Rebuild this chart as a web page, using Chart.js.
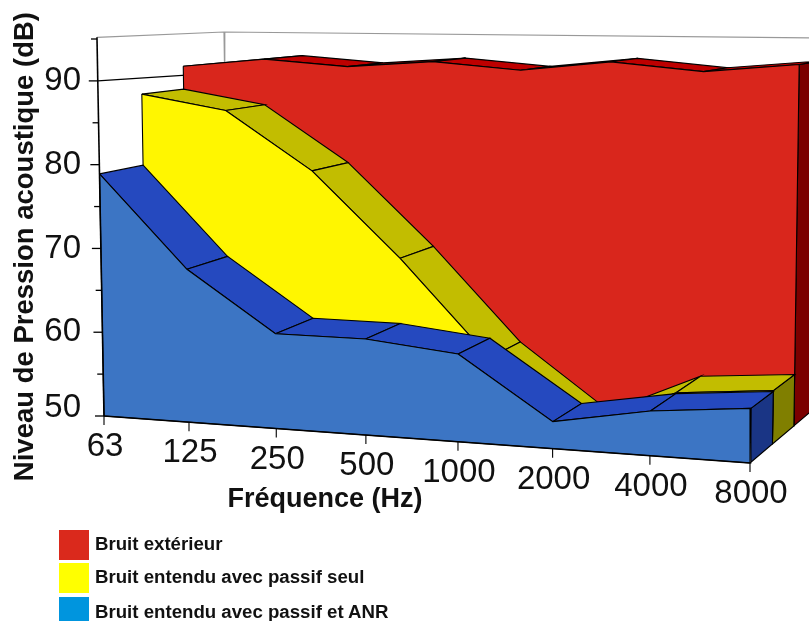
<!DOCTYPE html>
<html>
<head>
<meta charset="utf-8">
<title>Bruit</title>
<script src="https://cdn.jsdelivr.net/npm/chart.js"></script>
<style>
    html, body { margin: 0; padding: 0; background: #fff; overflow: hidden; }
    #wrap { position: relative; width: 809px; height: 621px; overflow: hidden; }
    canvas { position: absolute; left: 0; top: 0; }
    .key { position: absolute; left: 59px; width: 30px; height: 30px; }
    .keyText { position: absolute; left: 95px; font: bold 18.65px "Liberation Sans", Arial, sans-serif; color: #111; white-space: nowrap; }
</style>
</head>
<body>
<div id="wrap"><canvas id="noiseChart" width="809" height="621"></canvas></div>

<script>
// =====================================================
// DATA (dB)
// =====================================================
const frequencies = ["63", "125", "250", "500", "1000", "2000", "4000", "8000"];
const bruitExterieur = [90.8, 91.9, 91.1, 91.9, 91.0, 92.2, 91.2, 92.2];
const bruitPassif = [87.8, 86.0, 78.9, 68.8, 57.6, 50.0, 55.0, 56.0];
const bruitPassifAnr = [78.9, 68.0, 61.0, 61.0, 59.9, 53.0, 54.9, 55.9];
const yMajorTicks = [50, 60, 70, 80, 90];
const yMinorTicks = [55, 65, 75, 85, 95];
const legendLabels = ["Bruit extérieur", "Bruit entendu avec passif seul", "Bruit entendu avec passif et ANR"];
const legendColors = ["#da291c", "#ffff00", "#0095de"];
const legendTops = [530, 563, 597];
const legendTextTops = [533, 566, 601];

// =====================================================
// 3D BOX (screen corners of the floor and of the 95 dB level)
// =====================================================
const floorFront = [[104, 416], [750, 463]];
const topFront = [[97, 39], [757, 46]];
const floorBack = [[229, 358], [815, 408]];
const topBack = [[224, 32], [820, 38]];
const planes = [0, 0.345, 0.675, 1];   // depth of each series band
const perspective = 0.1;
const floorDb = 50, topDb = 95;
const pxPerDb = 8.37;                  // left axis scale

const lerp = (a, b, k) => a + (b - a) * k;
const toAxis = (py) => floorDb + (416 - py) / pxPerDb;

function last() { return frequencies.length - 1; }

function project(i, db, z) {
    const r = i / (frequencies.length - 1);
    const t = r / (1 + perspective * (1 - r));
    const v = (db - floorDb) / (topDb - floorDb);
    const corner = (front, back, n) => lerp(lerp(front[0][n], front[1][n], t), lerp(back[0][n], back[1][n], t), z);
    const x = lerp(corner(floorFront, floorBack, 0), corner(topFront, topBack, 0), v);
    const y = lerp(corner(floorFront, floorBack, 1), corner(topFront, topBack, 1), v);
    return { x: x, y: toAxis(y) };
}

// =====================================================
// DATASETS, painter's order (back first)
// =====================================================
function polygon(points, color) {
    return {
        data: points.concat([points[0]]),
        showLine: true,
        fill: "shape",
        backgroundColor: color,
        borderColor: "#000",
        borderWidth: 1.1,
        pointRadius: 0,
        clip: false
    };
}

function stroke(points, color, width) {
    return {
        data: points,
        showLine: true,
        fill: false,
        borderColor: color,
        borderWidth: width,
        pointRadius: 0,
        clip: false
    };
}

function band(values, z0, z1, colors) {
    const out = [];
    const end = values.length - 1;
    // right end
    out.push(polygon([
        project(end, floorDb, z0), project(end, values[end], z0),
        project(end, values[end], z1), project(end, floorDb, z1)
    ], colors.side));
    // top strip, one piece per frequency step
    for (let i = 0; i < end; i++) {
        out.push(polygon([
            project(i, values[i], z0), project(i + 1, values[i + 1], z0),
            project(i + 1, values[i + 1], z1), project(i, values[i], z1)
        ], colors.top));
    }
    // front face
    const face = values.map((v, i) => project(i, v, z0));
    face.push(project(end, floorDb, z0), project(0, floorDb, z0));
    out.push(polygon(face, colors.front));
    return out;
}

const painted = [];

// wall lines
painted.push(stroke([project(0, topDb + 0.2, 0), project(0, topDb, 1), project(last(), topDb, 1)], "#999", 1.2));
painted.push(stroke([project(0, topDb, 1), project(0, 88, 1)], "#999", 1.2));
painted.push(stroke([project(0, 90, 0), project(0, 89.4, 1)], "#000", 1.3));

painted.push(...band(bruitExterieur, planes[2], planes[3], { front: "#d9261c", top: "#bd0000", side: "#7b0000" }));
painted.push(...band(bruitPassif, planes[1], planes[2], { front: "#fff600", top: "#c2bd00", side: "#807f00" }));
painted.push(...band(bruitPassifAnr, planes[0], planes[1], { front: "#3c75c4", top: "#2549bf", side: "#1a3585" }));

// axes and tick marks
painted.push(stroke([project(0, topDb + 0.2, 0), project(0, floorDb, 0)], "#000", 1.6));
painted.push(stroke([project(0, floorDb, 0), project(last(), floorDb, 0)], "#000", 1.6));
yMajorTicks.forEach(function (v) {
    const p = project(0, v, 0);
    painted.push(stroke([{ x: p.x - 9, y: p.y }, p], "#000", 1.3));
});
yMinorTicks.forEach(function (v) {
    const p = project(0, v, 0);
    painted.push(stroke([{ x: p.x - 6, y: p.y }, p], "#000", 1.3));
});
frequencies.forEach(function (f, i) {
    const p = project(i, floorDb, 0);
    painted.push(stroke([p, { x: p.x, y: p.y - 9 / pxPerDb }], "#000", 1.1));
});

// =====================================================
// FREQUENCY LABELS follow the slanted floor
// =====================================================
const slantedAxisLabels = {
    id: "slantedAxisLabels",
    afterDatasetsDraw(chart) {
        const ctx = chart.ctx;
        const xs = chart.scales.x, ys = chart.scales.y;
        ctx.save();
        ctx.fillStyle = "#111";
        ctx.textAlign = "center";
        ctx.textBaseline = "middle";
        ctx.font = '33px "Liberation Sans", Arial, sans-serif';
        frequencies.forEach(function (f, i) {
            const p = project(i, floorDb, 0);
            ctx.fillText(f, xs.getPixelForValue(p.x) + 1, ys.getPixelForValue(p.y) + 31);
        });
        ctx.font = 'bold 27px "Liberation Sans", Arial, sans-serif';
        ctx.fillText("Fréquence (Hz)", 325, 500);
        ctx.restore();
    }
};

// =====================================================
// CHART
// =====================================================
new Chart(document.getElementById("noiseChart"), {
    type: "scatter",
    data: { datasets: painted.reverse() },
    plugins: [slantedAxisLabels],
    options: {
        responsive: false,
        animation: false,
        devicePixelRatio: 1,
        events: [],
        layout: { padding: { top: 12, bottom: 61, left: 0, right: 0 } },
        plugins: {
            legend: { display: false },
            tooltip: { enabled: false }
        },
        scales: {
            x: {
                type: "linear",
                display: false,
                min: 86,
                max: 809
            },
            y: {
                type: "linear",
                min: toAxis(560),
                max: toAxis(12),
                grid: { display: false, drawTicks: false },
                border: { display: false },
                afterBuildTicks: function (scale) {
                    scale.ticks = yMajorTicks.map(function (v) { return { value: v }; });
                },
                afterTickToLabelConversion: function (scale) {
                    // the 50 sits a bit above its tick in the original
                    scale.ticks[0].value = floorDb + 1;
                },
                afterFit: function (scale) {
                    scale.width = 86;
                    scale.paddingTop = 0;
                    scale.paddingBottom = 0;
                },
                ticks: {
                    autoSkip: false,
                    padding: 5,
                    color: "#111",
                    font: { family: "Liberation Sans", size: 33 },
                    callback: function (value) { return String(value); }
                },
                title: {
                    display: true,
                    text: "Niveau de Pression acoustique (dB)",
                    align: "end",
                    color: "#111",
                    padding: { top: 9, bottom: 0 },
                    font: { family: "Liberation Sans", size: 27.5, weight: "bold" }
                }
            }
        }
    }
});

// =====================================================
// LEGEND
// =====================================================
const wrap = document.getElementById("wrap");
legendLabels.forEach(function (label, i) {
    const box = document.createElement("div");
    box.className = "key";
    box.style.top = legendTops[i] + "px";
    box.style.background = legendColors[i];
    wrap.appendChild(box);

    const text = document.createElement("div");
    text.className = "keyText";
    text.style.top = legendTextTops[i] + "px";
    text.textContent = label;
    wrap.appendChild(text);
});
</script>
</body>
</html>
